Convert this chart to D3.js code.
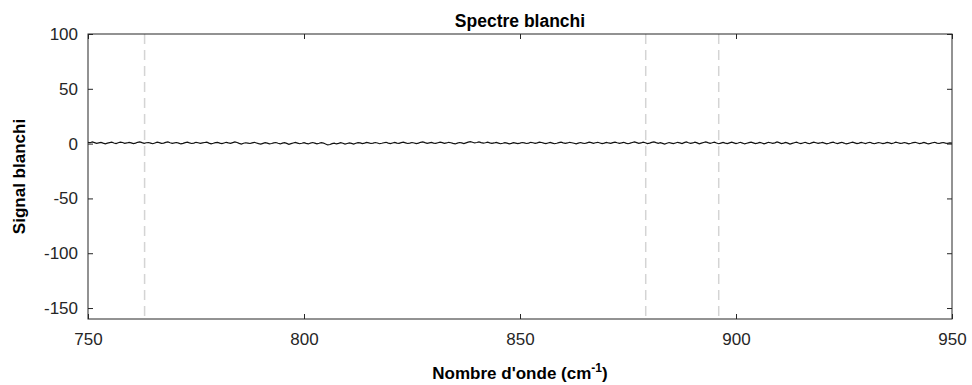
<!DOCTYPE html>
<html><head><meta charset="utf-8">
<script src="https://cdn.jsdelivr.net/npm/d3@7"></script>
<style>
html,body{margin:0;padding:0;background:#fff;}
svg{display:block;font-family:"Liberation Sans",Arial,Helvetica,sans-serif;}
</style></head>
<body><svg id="c" width="972" height="385"></svg>
<script>
const title = "Spectre blanchi";
const xLabel = "Nombre d'onde (cm";
const yLabel = "Signal blanchi";
const xStart = 750, xStep = 0.5;
const xTicks = [750, 800, 850, 900, 950];
const yTicks = [-150, -100, -50, 0, 50, 100];
const xDomain = [750, 950];
const yDomain = [-160, 100];
const markers = [763.1, 879.1, 896.0];
const signal = [
1.2,0.8,1.5,0.9,0.3,0.7,1.1,0.4,-0.2,0.5,0.9,1.3,0.6,0.1,0.8,1.4,1.0,0.2,0.6,1.1,
0.7,0.0,0.4,1.2,1.6,0.9,0.3,0.8,1.0,0.5,-0.1,0.6,1.3,0.9,0.2,0.5,1.1,1.5,0.8,0.3,
0.6,1.0,0.4,-0.3,0.2,0.9,1.4,0.7,0.1,0.5,1.2,0.8,0.2,0.6,1.0,1.3,0.5,-0.2,0.3,0.9,
1.1,0.4,0.0,0.6,1.2,0.7,0.3,0.9,1.5,1.0,0.2,-0.4,0.3,0.8,0.5,0.1,0.7,1.2,0.6,0.0,
-0.5,0.2,0.8,0.4,-0.2,0.1,0.7,1.0,0.3,-0.3,0.4,0.9,0.2,-0.6,0.0,0.6,1.1,0.5,-0.1,0.3,
0.8,0.2,-0.3,0.5,1.0,0.4,-0.2,0.3,0.9,0.5,-0.4,-1.2,-0.8,0.0,0.4,-0.3,0.2,0.8,0.3,-0.5,
0.1,0.7,0.2,-0.4,0.3,0.9,0.6,0.0,0.5,1.1,0.7,0.1,0.4,1.0,0.6,-0.1,0.3,0.8,1.2,0.5,
0.0,0.6,1.1,0.4,0.2,0.9,1.3,0.7,0.1,0.5,1.0,0.6,0.0,0.4,1.2,1.6,0.9,0.3,0.7,1.1,
0.5,0.2,0.8,1.4,0.9,0.3,0.6,1.2,0.8,0.2,-0.3,0.4,1.0,0.6,0.1,0.7,1.3,1.8,1.2,0.6,
1.0,1.5,0.9,0.4,0.8,1.3,0.7,0.2,0.6,1.1,0.5,-0.1,0.3,0.9,0.4,-0.2,0.2,0.8,0.5,0.0,
0.4,1.0,0.6,0.1,0.5,1.2,0.8,0.3,0.7,1.4,1.0,0.4,0.0,0.6,1.1,0.5,-0.1,0.3,0.9,1.3,
0.7,0.2,0.6,1.2,0.8,0.3,-0.2,0.4,1.0,0.5,0.1,0.7,1.3,0.9,0.3,0.8,1.2,0.6,0.0,0.5,
1.1,0.6,0.2,0.9,1.4,0.8,0.3,0.7,1.2,0.5,-0.1,0.4,1.0,1.5,0.9,0.2,0.6,1.3,0.8,0.1,
0.5,1.1,1.6,0.9,0.3,0.8,0.2,-0.4,0.3,1.0,0.5,0.0,0.6,1.2,0.7,0.1,0.9,1.5,0.8,0.2,
0.6,1.3,0.7,-0.2,0.4,1.0,1.6,0.9,0.3,0.8,1.4,0.6,-0.1,0.5,1.1,0.4,0.0,0.7,1.3,0.7,
0.1,0.6,1.2,0.5,-0.3,0.3,0.9,1.4,0.7,0.0,0.5,1.1,0.6,-0.2,0.4,1.2,0.8,0.2,0.7,1.5,
0.9,0.1,0.5,1.1,0.4,-0.4,0.2,0.8,1.3,0.6,0.0,0.6,1.2,0.5,-0.1,0.7,1.4,0.8,0.2,0.6,
1.1,0.4,-0.2,0.3,0.9,1.3,0.6,0.1,0.7,1.2,0.5,-0.3,0.2,0.8,1.3,0.7,0.0,0.5,1.1,0.6,
0.1,0.8,1.2,0.5,-0.1,0.4,1.0,0.6,0.0,0.5,1.1,0.7,0.1,0.6,1.3,0.8,0.2,0.4,1.0,0.5,
-0.2,0.3,0.9,1.2,0.6,0.0,0.5,1.1,0.4,-0.3,0.2,0.8,1.2,0.5,0.1,0.6,1.0,0.4,0.2,0.7,
0.5
];

const W = 972, H = 385;
const m = {left: 88, right: 20, top: 34, bottom: 66};
const svg = d3.select("#c");
const x = d3.scaleLinear().domain(xDomain).range([m.left, W - m.right]);
const y = d3.scaleLinear().domain(yDomain).range([H - m.bottom, m.top]);
const axisCol = "#262626";
const fmt = d => String(d);

// dashed markers
svg.append("g").selectAll("line").data(markers).join("line")
  .attr("x1", d => x(d)).attr("x2", d => x(d))
  .attr("y1", y(yDomain[1])).attr("y2", y(yDomain[0]))
  .attr("stroke", "#d4d4d4").attr("stroke-width", 1.5)
  .attr("stroke-dasharray", "10,6");

// signal
const pts = signal.map((v, i) => [xStart + i * xStep, v]);
svg.append("path").datum(pts)
  .attr("fill", "none").attr("stroke", "#111").attr("stroke-width", 1.2)
  .attr("d", d3.line().x(d => x(d[0])).y(d => y(d[1])));

const tl = 5;
function style(g, fs) {
  g.select(".domain").remove();
  g.selectAll(".tick line").attr("stroke", axisCol);
  g.selectAll(".tick text").attr("fill", axisCol).attr("font-size", fs);
}
svg.append("g").attr("transform", `translate(0,${y(yDomain[0])})`)
  .call(d3.axisBottom(x).tickValues(xTicks).tickSize(-tl).tickPadding(14).tickFormat(fmt))
  .call(g => style(g, 17));
svg.append("g").attr("transform", `translate(0,${y(yDomain[1])})`)
  .call(d3.axisTop(x).tickValues(xTicks).tickSize(-tl).tickFormat(""))
  .call(g => style(g, 17));
svg.append("g").attr("transform", `translate(${x(xDomain[0])},0)`)
  .call(d3.axisLeft(y).tickValues(yTicks).tickSize(-tl).tickPadding(10).tickFormat(fmt))
  .call(g => style(g, 17));
svg.append("g").attr("transform", `translate(${x(xDomain[1])},0)`)
  .call(d3.axisRight(y).tickValues(yTicks).tickSize(-tl).tickFormat(""))
  .call(g => style(g, 17));

svg.append("rect")
  .attr("x", x(xDomain[0])).attr("y", y(yDomain[1]))
  .attr("width", x(xDomain[1]) - x(xDomain[0]))
  .attr("height", y(yDomain[0]) - y(yDomain[1]))
  .attr("fill", "none").attr("stroke", axisCol).attr("stroke-width", 1);

const cx = (x(xDomain[0]) + x(xDomain[1])) / 2;
svg.append("text").attr("x", cx).attr("y", 27).attr("text-anchor", "middle")
  .attr("font-weight", "bold").attr("font-size", 17.5).attr("fill", "#000").text(title);

const xl = svg.append("text").attr("x", cx).attr("y", 379).attr("text-anchor", "middle")
  .attr("font-weight", "bold").attr("font-size", 17).attr("fill", "#000");
xl.append("tspan").text(xLabel);
xl.append("tspan").attr("dy", -7).attr("font-size", 12).text("-1");
xl.append("tspan").attr("dy", 7).text(")");

svg.append("text").attr("transform", `translate(25,${(y(yDomain[0]) + y(yDomain[1])) / 2}) rotate(-90)`)
  .attr("text-anchor", "middle").attr("font-weight", "bold").attr("font-size", 17)
  .attr("fill", "#000").text(yLabel);
</script>
</body></html>
